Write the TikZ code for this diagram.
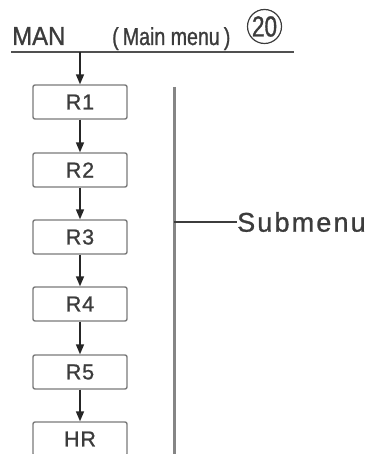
\documentclass[tikz,border=0pt]{standalone}
\usepackage{fontspec}
\setmainfont{Liberation Sans}
\newfontfamily\manfont[FakeStretch=0.92,FakeBold=1]{Liberation Sans}
\newfontfamily\mainmenufont[FakeStretch=0.8,FakeBold=1]{Liberation Sans}
\newfontfamily\numfont[FakeStretch=0.78,FakeBold=1]{Liberation Sans}
\newfontfamily\subfont[LetterSpace=8,FakeBold=1]{Liberation Sans}
\newfontfamily\boxfont[LetterSpace=4,FakeBold=1]{Liberation Sans}
\usetikzlibrary{arrows.meta}
\definecolor{txt}{HTML}{3C3C3C}
\definecolor{boxline}{HTML}{7A7A7A}
\definecolor{barline}{HTML}{858585}
\definecolor{arrowc}{HTML}{262626}
\tikzset{
  rbox/.style={draw=boxline, line width=1.4pt, rounded corners=2pt,
    minimum width=94pt, minimum height=34pt, inner sep=0pt,
    text=txt, font=\boxfont\fontsize{21.5}{21.5}\selectfont},
  flow/.style={draw=arrowc, line width=1.6pt,
    -{Triangle[length=10pt,width=8pt]}},
  lbl/.style={text=txt, inner sep=0pt}
}
\begin{document}
\begin{tikzpicture}[x=1pt,y=-1pt]
\useasboundingbox (0,0) rectangle (371,454);
\clip (0,0) rectangle (371,454);
% header
\node[lbl, anchor=base west, font=\manfont\fontsize{26}{26}\selectfont] (man) at (12,45) {MAN};
\node[lbl, anchor=base west, font=\mainmenufont\fontsize{24.5}{24.5}\selectfont] (mm) at (112,45) {(\,Main menu\,)};
\node[draw=txt, line width=1.2pt, circle, minimum size=34pt, inner sep=0pt,
      text=txt, font=\numfont\fontsize{29}{29}\selectfont] (num) at (264.5,26.5) {20};
\draw[draw=txt!90, line width=2.2pt] (11,52) coordinate (ls) -- (294,52) coordinate (le);
\coordinate (top) at (80,52);
% boxes
\node[rbox] (r1) at (80,102) {R1};
\node[rbox] (r2) at (80,170) {R2};
\node[rbox] (r3) at (80,237) {R3};
\node[rbox] (r4) at (80,304) {R4};
\node[rbox] (r5) at (80,372) {R5};
\node[rbox] (hr) at (80,439) {HR};
\draw[flow] (top) -- (r1.north);
\draw[flow] (r1) -- (r2);
\draw[flow] (r2) -- (r3);
\draw[flow] (r3) -- (r4);
\draw[flow] (r4) -- (r5);
\draw[flow] (r5) -- (hr);
% submenu bracket
\coordinate (bt) at (174,87);
\coordinate (bb) at (174,460);
\coordinate (bm) at (174,222);
\draw[draw=barline, line width=3pt] (bt) -- (bb);
\node[lbl, anchor=west, font=\subfont\fontsize{27}{27}\selectfont] (sub) at (237,222) {Submenu};
\draw[draw=txt, line width=1.2pt] (bm) -- (sub.west);
\end{tikzpicture}
\end{document}
